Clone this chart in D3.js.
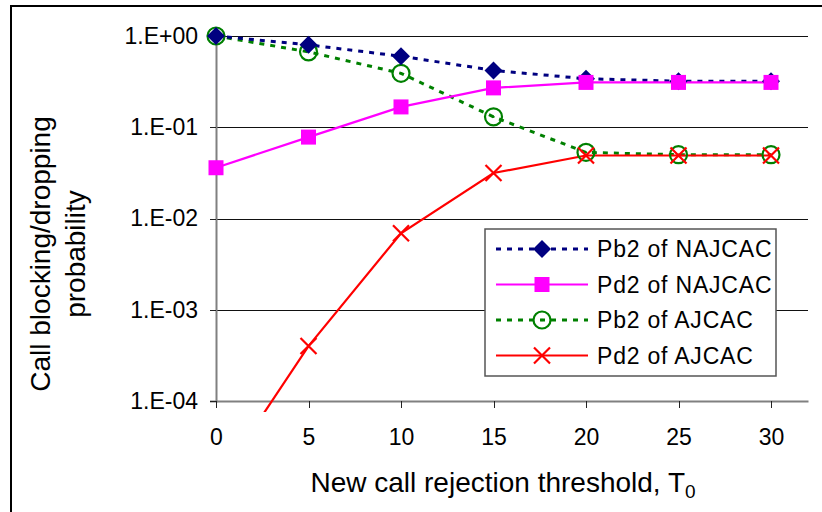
<!DOCTYPE html>
<html><head><meta charset="utf-8">
<script src="https://cdn.jsdelivr.net/npm/d3@7"></script>
<style>body{margin:0;background:#fff;}svg{display:block;font-family:"Liberation Sans",Arial,sans-serif;}</style>
</head><body>
<script>
const xValues = [0, 5, 10, 15, 20, 25, 30];
const pb2NAJCAC = [1.0, 0.80, 0.60, 0.42, 0.34, 0.32, 0.32];
const pd2NAJCAC = [0.036, 0.078, 0.167, 0.27, 0.31, 0.31, 0.31];
const pb2AJCAC = [1.0, 0.67, 0.39, 0.13, 0.053, 0.050, 0.050];
const pd2AJCAC = [1.2e-5, 4.0e-4, 0.0069, 0.0315, 0.049, 0.049, 0.049];
const yTickValues = [1, 0.1, 0.01, 0.001, 0.0001];
const yTickLabels = ["1.E+00", "1.E-01", "1.E-02", "1.E-03", "1.E-04"];
const xTickLabels = ["0", "5", "10", "15", "20", "25", "30"];
const seriesNames = ["Pb2 of NAJCAC", "Pd2 of NAJCAC", "Pb2 of AJCAC", "Pd2 of AJCAC"];

const W = 822, H = 512;
const svg = d3.select("body").append("svg").attr("width", W).attr("height", H);

const x = d3.scaleLinear().domain([0, 32]).range([216, 808]);
const y = d3.scaleLog().domain([1e-4, 1]).range([401, 36]);

// frame
svg.append("rect").attr("x", 11).attr("y", 6).attr("width", W).attr("height", H)
  .attr("fill", "none").attr("stroke", "#000").attr("stroke-width", 2);

// gridlines
svg.append("g").selectAll("line").data(yTickValues.slice(0, 4)).join("line")
  .attr("x1", x(0)).attr("x2", x(32)).attr("y1", d => Math.round(y(d)) + 0.5).attr("y2", d => Math.round(y(d)) + 0.5)
  .attr("stroke", "#111").attr("stroke-width", 1).attr("shape-rendering", "crispEdges");

// y axis
const yAxis = d3.axisLeft(y).tickValues(yTickValues).tickFormat((d, i) => yTickLabels[i]).tickSize(6).tickPadding(12);
const gy = svg.append("g").attr("transform", `translate(${x(0)},0)`).call(yAxis);
gy.select(".domain").attr("stroke", "#808080").attr("stroke-width", 2);
gy.selectAll(".tick line").attr("stroke", "#222").attr("stroke-width", 1).attr("shape-rendering", "crispEdges");
gy.selectAll(".tick text").attr("font-size", 23).attr("fill", "#000").attr("font-family", "Liberation Sans, Arial, sans-serif");

// x axis
const xAxis = d3.axisBottom(x).tickValues(xValues).tickFormat((d, i) => xTickLabels[i]).tickSize(7).tickSizeOuter(0).tickPadding(21);
const gx = svg.append("g").attr("transform", `translate(0,${y(1e-4)})`).call(xAxis);
gx.select(".domain").attr("stroke", "#808080").attr("stroke-width", 2);
gx.selectAll(".tick line").attr("stroke", "#222").attr("stroke-width", 1).attr("shape-rendering", "crispEdges");
gx.selectAll(".tick text").attr("font-size", 23).attr("fill", "#000").attr("font-family", "Liberation Sans, Arial, sans-serif");

// clip
svg.append("clipPath").attr("id", "clip").append("rect")
  .attr("x", 200).attr("y", 20).attr("width", 620).attr("height", 392);

const series = [
  {name: seriesNames[0], vals: pb2NAJCAC, color: "#000080", dash: "5,6", marker: "diamond"},
  {name: seriesNames[1], vals: pd2NAJCAC, color: "#FF00FF", dash: null, marker: "square"},
  {name: seriesNames[2], vals: pb2AJCAC, color: "#008000", dash: "5,6", marker: "circle"},
  {name: seriesNames[3], vals: pd2AJCAC, color: "#FF0000", dash: null, marker: "cross"}
];

const line = d3.line().x(d => x(d[0])).y(d => y(d[1]));

function drawMarker(g, type, color, cx, cy) {
  if (type === "diamond") {
    g.append("path").attr("d", `M${cx},${cy-9}L${cx+9},${cy}L${cx},${cy+9}L${cx-9},${cy}Z`).attr("fill", color);
  } else if (type === "square") {
    g.append("rect").attr("x", cx-7.5).attr("y", cy-7.5).attr("width", 15).attr("height", 15).attr("fill", color);
  } else if (type === "circle") {
    g.append("circle").attr("cx", cx).attr("cy", cy).attr("r", 8.5).attr("fill", "none").attr("stroke", color).attr("stroke-width", 2.2);
    g.append("circle").attr("cx", cx).attr("cy", cy).attr("r", 1.2).attr("fill", color);
  } else {
    g.append("path").attr("d", `M${cx-8},${cy-8}L${cx+8},${cy+8}M${cx-8},${cy+8}L${cx+8},${cy-8}`).attr("stroke", color).attr("stroke-width", 2.2);
  }
}

const order = [2, 0, 1, 3];
order.forEach(i => {
  const s = series[i];
  const pts = xValues.map((xv, j) => [xv, s.vals[j]]);
  svg.append("path").attr("d", line(pts)).attr("fill", "none").attr("stroke", s.color)
    .attr("stroke-width", s.dash ? 3 : 2.2).attr("stroke-dasharray", s.dash).attr("clip-path", "url(#clip)");
});
order.forEach(i => {
  const s = series[i];
  const g = svg.append("g");
  xValues.forEach((xv, j) => {
    if (s.vals[j] >= 1e-4) drawMarker(g, s.marker, s.color, x(xv), y(s.vals[j]));
  });
});

// legend
const lg = svg.append("g");
lg.append("rect").attr("x", 485).attr("y", 229).attr("width", 291).attr("height", 147)
  .attr("fill", "#fff").attr("stroke", "#555").attr("stroke-width", 1.5);
series.forEach((s, i) => {
  const ly = 249 + i * 35.5;
  lg.append("line").attr("x1", 496).attr("x2", 588).attr("y1", ly).attr("y2", ly)
    .attr("stroke", s.color).attr("stroke-width", s.dash ? 3 : 2.2).attr("stroke-dasharray", s.dash);
  drawMarker(lg, s.marker, s.color, 542, ly);
  lg.append("text").attr("x", 597).attr("y", ly).attr("dy", "0.36em")
    .attr("font-size", 23).attr("letter-spacing", 0.8).text(s.name);
});

// axis titles
const xt = svg.append("text").attr("x", 503).attr("y", 492).attr("text-anchor", "middle").attr("font-size", 28);
xt.append("tspan").text("New call rejection threshold, T");
xt.append("tspan").attr("font-size", 19).attr("dy", 6).text("0");

const yt = svg.append("text").attr("transform", "translate(40,254) rotate(-90)").attr("text-anchor", "middle").attr("font-size", 28);
yt.append("tspan").attr("x", 0).attr("dy", "0.36em").text("Call blocking/dropping");
yt.append("tspan").attr("x", 0).attr("dy", 35).text("probability");
</script>
</body></html>
